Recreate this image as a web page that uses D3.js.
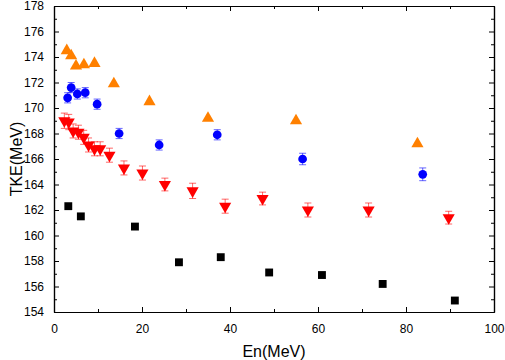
<!DOCTYPE html>
<html>
<head>
<meta charset="utf-8">
<script src="https://cdn.jsdelivr.net/npm/d3@7"></script>
<style>
  body { margin: 0; background: #fff; }
  text { font-family: Arial, "Liberation Sans", sans-serif; }
</style>
</head>
<body>
<div id="chart"></div>
<script>
// data
var blackX = [3.25, 6.1, 18.4, 28.4, 37.9, 48.9, 60.9, 74.7, 91.1];
var blackY = [162.3, 161.5, 160.7, 157.9, 158.3, 157.1, 156.9, 156.2, 154.9];

var orangeX = [2.9, 3.9, 5.0, 6.8, 9.2, 13.6, 21.7, 35.0, 55.0, 82.6];
var orangeY = [174.5, 174.1, 173.3, 173.4, 173.5, 171.9, 170.5, 169.2, 169.0, 167.2];

var blueX = [3.1, 3.9, 5.3, 7.1, 9.8, 14.8, 23.9, 37.1, 56.5, 83.8];
var blueY = [170.8, 171.6, 171.1, 171.2, 170.3, 168.0, 167.1, 167.9, 166.0, 164.8];
var blueErr = [0.4, 0.4, 0.4, 0.4, 0.4, 0.4, 0.4, 0.4, 0.45, 0.5];

var redX = [2.35, 3.35, 4.35, 5.55, 6.75, 7.85, 9.2, 10.5, 12.6, 15.9, 20.1, 25.2, 31.5, 38.9, 47.4, 57.7, 71.5, 89.7];
var redY = [169.0, 168.9, 168.2, 168.1, 167.7, 167.1, 166.8, 166.8, 166.3, 165.3, 164.9, 164.0, 163.5, 162.3, 162.9, 162.0, 162.0, 161.4];
var redErr = [0.6, 0.6, 0.55, 0.55, 0.55, 0.55, 0.55, 0.55, 0.55, 0.55, 0.55, 0.5, 0.6, 0.55, 0.5, 0.55, 0.55, 0.5];

var xTicks = [0, 20, 40, 60, 80, 100];
var yTicks = [154, 156, 158, 160, 162, 164, 166, 168, 170, 172, 174, 176, 178];

// set the dimensions and margins of the graph
var margin = {top: 6, right: 11, bottom: 48, left: 54},
    width = 505 - margin.left - margin.right,
    height = 360 - margin.top - margin.bottom;

var svg = d3.select("#chart")
  .append("svg")
    .attr("width", 505)
    .attr("height", 360)
  .append("g")
    .attr("transform", "translate(" + margin.left + "," + margin.top + ")");

var x = d3.scaleLinear().domain([0, 100]).range([0, width]);
var y = d3.scaleLinear().domain([154, 178]).range([height, 0]);

// minor ticks
var xMinor = d3.range(10, 100, 20);
var yMinor = d3.range(155, 178, 2);

function styleAxis(g) {
  g.select(".domain").attr("stroke", "#000").attr("stroke-width", 1.2);
  g.selectAll(".tick line").attr("stroke", "#000").attr("stroke-width", 1);
  g.selectAll(".tick text").attr("font-size", "12px").attr("fill", "#000")
    .attr("font-family", "Arial, 'Liberation Sans', sans-serif");
}

// bottom axis
svg.append("g")
  .attr("transform", "translate(0," + height + ")")
  .call(d3.axisBottom(x).tickValues(xTicks).tickSizeInner(-5).tickSizeOuter(0).tickPadding(12))
  .call(styleAxis);
svg.append("g")
  .attr("transform", "translate(0," + height + ")")
  .call(d3.axisBottom(x).tickValues(xMinor).tickSizeInner(-3).tickSizeOuter(0).tickFormat(""))
  .call(styleAxis);

// top axis
svg.append("g")
  .call(d3.axisTop(x).tickValues(xTicks).tickSizeInner(-5).tickSizeOuter(0).tickFormat(""))
  .call(styleAxis);
svg.append("g")
  .call(d3.axisTop(x).tickValues(xMinor).tickSizeInner(-3).tickSizeOuter(0).tickFormat(""))
  .call(styleAxis);

// left axis
svg.append("g")
  .call(d3.axisLeft(y).tickValues(yTicks).tickSizeInner(-5).tickSizeOuter(0).tickPadding(10))
  .call(styleAxis);
svg.append("g")
  .call(d3.axisLeft(y).tickValues(yMinor).tickSizeInner(-3).tickSizeOuter(0).tickFormat(""))
  .call(styleAxis);

// right axis
svg.append("g")
  .attr("transform", "translate(" + width + ",0)")
  .call(d3.axisRight(y).tickValues(yTicks).tickSizeInner(-5).tickSizeOuter(0).tickFormat(""))
  .call(styleAxis);
svg.append("g")
  .attr("transform", "translate(" + width + ",0)")
  .call(d3.axisRight(y).tickValues(yMinor).tickSizeInner(-3).tickSizeOuter(0).tickFormat(""))
  .call(styleAxis);

// axis titles
svg.append("text")
  .attr("x", width / 2)
  .attr("y", height + 45)
  .attr("text-anchor", "middle")
  .attr("font-size", "16px")
  .text("En(MeV)");

svg.append("text")
  .attr("transform", "translate(" + (-32) + "," + (height / 2) + ") rotate(-90)")
  .attr("text-anchor", "middle")
  .attr("font-size", "16px")
  .text("TKE(MeV)");

// error bars
function drawErr(xs, ys, es, color) {
  var d = xs.map(function(v, i) { return {x: v, y: ys[i], e: es[i]}; });
  var g = svg.append("g")
    .attr("stroke", color)
    .attr("stroke-opacity", 0.6)
    .attr("stroke-width", 1);
  g.selectAll(".v").data(d).enter().append("line")
    .attr("x1", function(d) { return x(d.x); })
    .attr("x2", function(d) { return x(d.x); })
    .attr("y1", function(d) { return y(d.y - d.e); })
    .attr("y2", function(d) { return y(d.y + d.e); });
  [1, -1].forEach(function(s) {
    g.selectAll(".c" + s).data(d).enter().append("line")
      .attr("x1", function(d) { return x(d.x) - 3.5; })
      .attr("x2", function(d) { return x(d.x) + 3.5; })
      .attr("y1", function(d) { return y(d.y + s * d.e); })
      .attr("y2", function(d) { return y(d.y + s * d.e); });
  });
}

function drawPoints(xs, ys, symbol, size, color, rot) {
  var d = xs.map(function(v, i) { return {x: v, y: ys[i]}; });
  svg.append("g").selectAll("path").data(d).enter().append("path")
    .attr("d", d3.symbol().type(symbol).size(size))
    .attr("transform", function(d) {
      return "translate(" + x(d.x) + "," + y(d.y) + ")" + (rot ? " rotate(" + rot + ")" : "");
    })
    .attr("fill", color);
}

drawErr(redX, redY, redErr, "#ff0000");
drawErr(blueX, blueY, blueErr, "#0000ff");

drawPoints(blackX, blackY, d3.symbolSquare, 62, "#000000");
drawPoints(orangeX, orangeY, d3.symbolTriangle, 64, "#ff8000");
drawPoints(blueX, blueY, d3.symbolCircle, 60, "#0000ff");
drawPoints(redX, redY, d3.symbolTriangle, 64, "#ff0000", 180);
</script>
</body>
</html>
